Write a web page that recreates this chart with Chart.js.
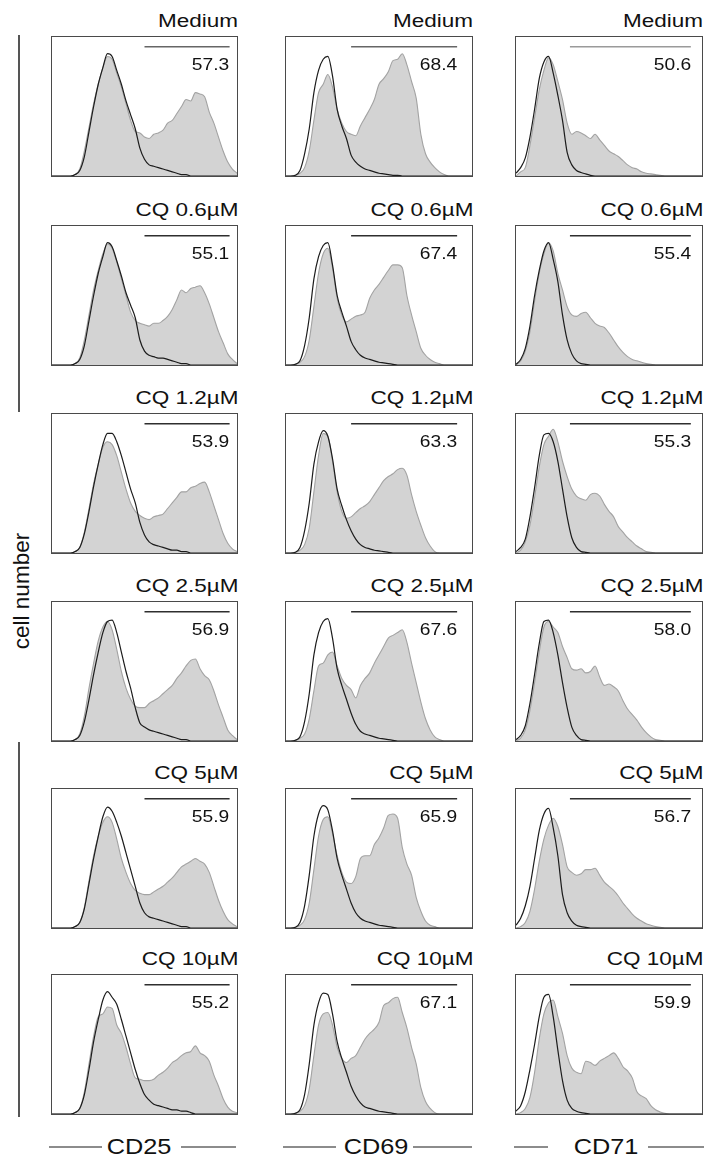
<!DOCTYPE html>
<html>
<head>
<meta charset="utf-8">
<script src="https://cdn.jsdelivr.net/npm/chart.js@4.4.1/dist/chart.umd.min.js"></script>
<style>
body{margin:0;background:#fff;font-family:"Liberation Sans",Arial,sans-serif;color:#111}
#fig{position:relative;width:708px;height:1156px;overflow:hidden;background:#fff}
.box{position:absolute;box-sizing:border-box;border:1px solid #4a4a4a;background:#fff}
.box canvas{display:block}
.ttl{position:absolute;font-size:18px;line-height:18px;white-space:nowrap;transform:scaleX(1.25);transform-origin:right center}
.pct{position:absolute;font-size:16px;line-height:16px;white-space:nowrap;transform:scaleX(1.2);transform-origin:right center}
.lab{position:absolute;font-size:22px;line-height:22px;white-space:nowrap;transform:translateX(-50%) scaleX(1.15)}
.rule{position:absolute;height:1.5px;background:#8c8c8c}
.vbar{position:absolute;width:1.5px;background:#555}
#ylab{position:absolute;left:22px;top:591px;font-size:22.5px;line-height:22px;white-space:nowrap;transform:translate(-50%,-50%) rotate(-90deg)}
</style>
</head>
<body>
<div id="fig"><div id="ylab">cell number</div></div>
<script>
// fluorescence channel (% of axis), shared by every histogram
const xs = [0,2.5,5,7.5,10,12.5,15,17.5,20,22.5,25,27.5,30,32.5,35,37.5,40,42.5,45,47.5,50,52.5,55,57.5,60,62.5,65,67.5,70,72.5,75,77.5,80,82.5,85,87.5,90,92.5,95,97.5,100];

const markers = ['CD25','CD69','CD71'];
const conditions = ['Medium','CQ 0.6µM','CQ 1.2µM','CQ 2.5µM','CQ 5µM','CQ 10µM'];

// gated % positive, one per condition
const cd25Pct = [57.3,55.1,53.9,56.9,55.9,55.2];
const cd69Pct = [68.4,67.4,63.3,67.6,65.9,67.1];
const cd71Pct = [50.6,55.4,55.3,58.0,56.7,59.9];

// gate range on the x channel, per marker
const gateStart = [50,35,29];
const gateEnd = [96,92,94];
const gateLevel = 93;

// stimulated (grey filled) histograms, % of max
const cd25Stim = [
  [0,0,0,0,0,1,5,18,35,52,66,78,86,84,74,64,52,40,32,31,28,27,30,31,33,38,40,45,50,55,54,60,59,57,46,38,28,18,10,5,2],
  [0,0,0,0,0,1,5,18,36,54,68,80,87,84,74,62,50,38,32,30,29,28,30,30,32,35,40,47,54,52,55,56,57,52,44,34,24,16,8,4,1],
  [0,0,0,0,0,1,4,15,32,50,64,76,80,78,70,58,46,36,30,27,25,24,26,27,28,32,36,40,44,44,47,48,50,51,44,34,24,14,7,3,1],
  [0,0,0,0,0,1,5,18,38,56,72,82,86,80,66,50,38,30,25,24,24,27,29,31,34,37,40,45,49,54,58,59,52,47,44,36,26,17,8,4,1],
  [0,0,0,0,0,1,4,15,34,52,66,76,80,76,64,50,40,32,27,25,24,24,26,28,30,33,36,40,44,46,48,50,48,46,40,30,20,12,6,3,1],
  [0,0,0,0,0,1,4,16,36,56,70,72,77,76,64,58,48,36,26,25,24,24,25,28,30,33,37,39,42,44,45,49,44,42,38,28,20,11,5,2,1]
];
const cd69Stim = [
  [0,0,0.5,2,6,18,40,60,66,73,64,48,38,32,30,29,36,42,48,55,66,70,75,83,84,88,80,68,56,30,16,10,6,3,1,0,0,0,0,0,0],
  [0,0,0.5,2,6,18,42,66,80,84,70,48,36,31,33,35,36,38,48,54,58,63,68,72,72,70,50,36,24,12,7,4,2,1,0,0,0,0,0,0,0],
  [0,0,0.5,2,6,18,44,70,86,84,66,44,30,25,26,29,32,34,37,42,47,52,55,57,60,61,56,42,30,20,11,5,1,0,0,0,0,0,0,0,0],
  [0,0,0.5,2,5,16,36,54,56,62,64,54,45,40,37,31,40,45,49,56,62,68,74,76,78,80,71,56,42,28,16,8,3,1,0,0,0,0,0,0,0],
  [0,0,0.5,2,6,18,42,66,78,80,68,52,40,33,32,37,50,52,52,60,65,72,81,82,79,58,46,38,22,12,5,2,1,0,0,0,0,0,0,0,0],
  [0,0,0.5,2,6,18,42,64,72,73,64,48,40,37,40,42,48,54,58,61,66,78,80,83,84,73,62,48,36,19,9,4,1,0,0,0,0,0,0,0,0]
];
const cd71Stim = [
  [0,3,6,22,42,62,76,85,80,68,55,38,30,32,31,29,27,30,26,22,18,16,14,11,8,6,5,3,2,1.5,1,0.5,0,0,0,0,0,0,0,0,0],
  [0,3,10,24,46,66,80,88,82,66,54,42,36,35,37,38,34,30,28,27,23,18,13,9,6,4,3,2,1,0.5,0,0,0,0,0,0,0,0,0,0,0],
  [0,2,8,20,40,62,78,84,89,80,66,55,46,41,39,38,42,43,41,35,30,26,19,15,11,8,5,3,1,0.5,0,0,0,0,0,0,0,0,0,0,0],
  [0,2,8,22,42,64,82,86,82,78,68,60,52,51,52,49,50,54,46,40,41,39,36,29,23,19,15,10,6,3,1,0.5,0,0,0,0,0,0,0,0,0],
  [0,1,4,12,28,48,64,74,79,73,60,44,40,38,39,42,42,43,38,33,30,27,23,18,14,10,7,5,3,2,1,0.5,0,0,0,0,0,0,0,0,0],
  [0,1,4,12,30,54,72,80,82,70,58,42,33,30,29,38,37,35,38,40,42,44,40,34,31,26,16,13,11,6,3,1.5,0.5,0,0,0,0,0,0,0,0]
];

// control (black outline) histograms, % of max
const cd25Ctrl = [
  [0,0,0,0,0,1,4,14,32,50,66,78,88,86,76,66,54,44,34,20,12,8,7,6,5,4,3,2,1,1,0,0,0,0,0,0,0,0,0,0,0],
  [0,0,0,0,0,1,4,14,32,50,66,78,88,85,75,64,52,43,34,18,10,7,6,5,5,4,3,2,1,1,0,0,0,0,0,0,0,0,0,0,0],
  [0,0,0,0,0,1,4,14,30,48,64,78,86,86,80,70,58,46,36,22,13,8,6,5,4,3,2,2,1,1,0,0,0,0,0,0,0,0,0,0,0],
  [0,0,0,0,0,1,4,14,30,48,64,78,86,87,78,64,50,38,24,13,10,8,7,6,5,4,3,2,1,1,0,0,0,0,0,0,0,0,0,0,0],
  [0,0,0,0,0,1,4,14,32,50,66,80,87,84,76,66,54,42,30,18,11,8,7,6,5,4,3,2,1,1,0,0,0,0,0,0,0,0,0,0,0],
  [0,0,0,0,0,1,4,14,32,52,68,82,88,84,79,68,56,44,32,22,14,10,7,6,5,4,3,3,2,2,1,0,0,0,0,0,0,0,0,0,0]
];
const cd69Ctrl = [
  [0,0,0.5,4,16,34,60,76,84,86,72,48,36,27,15,10,7,5,4,3,2,1.5,1,0.5,0.5,0,0,0,0,0,0,0,0,0,0,0,0,0,0,0,0],
  [0,0,0.5,3,14,34,62,78,86,88,72,50,38,28,17,11,7,5,4,3,2,1.5,1,0.5,0,0,0,0,0,0,0,0,0,0,0,0,0,0,0,0,0],
  [0,0,0.5,4,16,36,64,80,88,84,68,46,34,24,16,10,6,4,3,2,1.5,1,0.5,0,0,0,0,0,0,0,0,0,0,0,0,0,0,0,0,0,0],
  [0,0,0.5,3,14,34,62,78,86,88,74,52,40,30,20,12,7,5,4,3,2,1.5,1,0.5,0,0,0,0,0,0,0,0,0,0,0,0,0,0,0,0,0],
  [0,0,0.5,4,16,38,66,82,88,85,70,50,38,28,18,11,7,5,4,3,2,1.5,1,0.5,0,0,0,0,0,0,0,0,0,0,0,0,0,0,0,0,0],
  [0,0,0.5,3,14,36,64,80,87,86,72,52,40,30,20,13,8,5,4,3,2,1.5,1,0.5,0,0,0,0,0,0,0,0,0,0,0,0,0,0,0,0,0]
];
const cd71Ctrl = [
  [2,6,13,28,48,70,82,86,74,58,40,17,8,4,2.5,1.5,0.5,0,0,0,0,0,0,0,0,0,0,0,0,0,0,0,0,0,0,0,0,0,0,0,0],
  [0.5,4,12,28,50,68,82,88,76,60,36,18,8,3,1,0.5,0,0,0,0,0,0,0,0,0,0,0,0,0,0,0,0,0,0,0,0,0,0,0,0,0],
  [1,4,10,26,47,70,85,86,80,66,46,26,11,4,1,0.5,0,0,0,0,0,0,0,0,0,0,0,0,0,0,0,0,0,0,0,0,0,0,0,0,0],
  [1,4,11,27,48,70,86,87,78,62,42,24,10,4,1,0.5,0,0,0,0,0,0,0,0,0,0,0,0,0,0,0,0,0,0,0,0,0,0,0,0,0],
  [2,7,16,30,50,70,82,86,72,52,24,11,5,2,1,0.5,0,0,0,0,0,0,0,0,0,0,0,0,0,0,0,0,0,0,0,0,0,0,0,0,0],
  [2,6,16,32,50,70,84,86,70,46,24,10,4,2,1,0.5,0,0,0,0,0,0,0,0,0,0,0,0,0,0,0,0,0,0,0,0,0,0,0,0,0]
];

// layout
const rowTop = [36,225,413,601,788,974];
const colLeft = [51,285,515];
const colW = [187,188,188];
const boxH = 141;
const FIGW = 708;

const fig = document.getElementById('fig');
function el(cls, css, text) {
  const d = document.createElement('div');
  d.className = cls;
  Object.assign(d.style, css);
  if (text != null) d.textContent = text;
  fig.appendChild(d);
  return d;
}
function pts(arr) {
  return xs.map((x, i) => ({x: x, y: arr[i]}));
}

const stim = [cd25Stim, cd69Stim, cd71Stim];
const ctrl = [cd25Ctrl, cd69Ctrl, cd71Ctrl];
const pct = [cd25Pct, cd69Pct, cd71Pct];

// left brackets
el('vbar', {left:'18px', top:'35px', height:'377px'});
el('vbar', {left:'18px', top:'742px', height:'375px'});

conditions.forEach(function(cond, r) {
  markers.forEach(function(m, c) {
    var L = colLeft[c], T = rowTop[r], W = colW[c];
    el('ttl', {right: (FIGW - (L + W)) + 'px', top: (T - 24.5) + 'px'}, cond);

    var box = el('box', {left: L + 'px', top: T + 'px', width: W + 'px', height: boxH + 'px'});
    var cv = document.createElement('canvas');
    cv.width = W - 2;
    cv.height = boxH - 2;
    box.appendChild(cv);

    var gx = L + 1 + (W - 2) * gateEnd[c] / 100;
    el('pct', {right: (FIGW - gx) + 'px', top: (T + 21) + 'px'}, pct[c][r].toFixed(1));

    var gateCol = r === 0 ? (c === 2 ? '#9a9a9a' : '#666') : '#2e2e2e';

    new Chart(cv, {
      type: 'line',
      data: {
        datasets: [
          {
            data: pts(ctrl[c][r]),
            borderColor: '#1c1c1c',
            borderWidth: 1.2,
            fill: false,
            cubicInterpolationMode: 'monotone',
            order: 0
          },
          {
            data: [{x: gateStart[c], y: gateLevel}, {x: gateEnd[c], y: gateLevel}],
            borderColor: gateCol,
            borderWidth: 1.5,
            fill: false,
            order: 1
          },
          {
            data: pts(stim[c][r]),
            borderColor: '#a3a3a3',
            backgroundColor: '#d3d3d3',
            borderWidth: 1.1,
            fill: 'origin',
            cubicInterpolationMode: 'monotone',
            order: 2
          }
        ]
      },
      options: {
        responsive: false,
        animation: false,
        layout: {padding: 0},
        elements: {point: {radius: 0}},
        plugins: {legend: {display: false}, tooltip: {enabled: false}},
        scales: {
          x: {type: 'linear', min: 0, max: 100, display: false},
          y: {min: 0, max: 100, display: false}
        }
      }
    });
  });
});

// marker names under each column
const labelX = [139,376,606];
const ruleLeft = [[49,102],[283,336],[514,548]];
const ruleRight = [[181,236],[413,472],[648,704]];
markers.forEach(function(m, c) {
  el('rule', {left: ruleLeft[c][0] + 'px', width: (ruleLeft[c][1] - ruleLeft[c][0]) + 'px', top: '1146px'});
  el('rule', {left: ruleRight[c][0] + 'px', width: (ruleRight[c][1] - ruleRight[c][0]) + 'px', top: '1146px'});
  el('lab', {left: labelX[c] + 'px', top: '1136px'}, m);
});
</script>
</body>
</html>
